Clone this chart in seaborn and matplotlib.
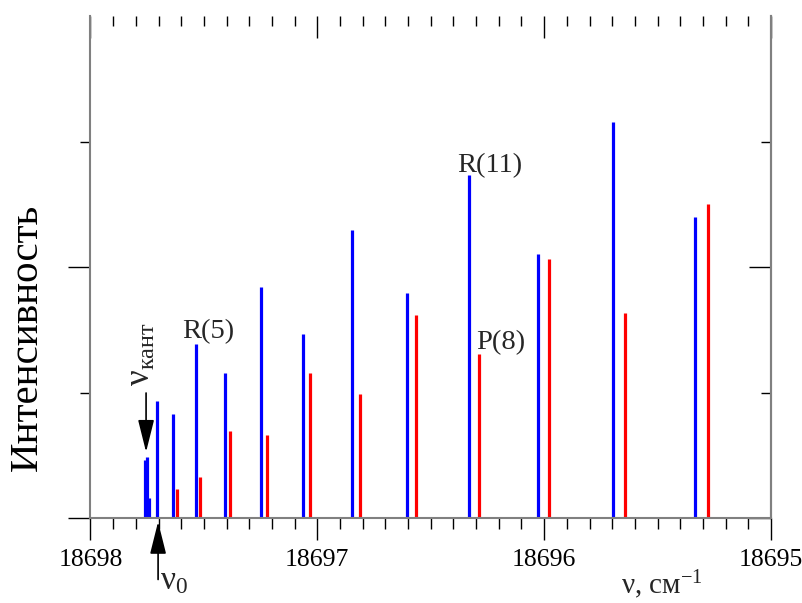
import matplotlib
matplotlib.use("Agg")
import matplotlib.pyplot as plt
import numpy as np
import pandas as pd
import seaborn as sns
from matplotlib.ticker import FixedLocator, MultipleLocator, NullFormatter

# ---- data ----
r_nu = [18697.760, 18697.749, 18697.740, 18697.705, 18697.635, 18697.535,
        18697.406, 18697.250, 18697.064, 18696.848, 18696.605, 18696.330,
        18696.028, 18695.696, 18695.336]
r_int = [0.46, 0.49, 0.16, 0.93, 0.83, 1.39, 1.155, 1.84, 1.47, 2.295,
         1.79, 2.73, 2.10, 3.155, 2.40]
p_nu = [18697.620, 18697.517, 18697.384, 18697.223, 18697.031, 18696.813,
        18696.565, 18696.286, 18695.978, 18695.642, 18695.279]
p_int = [0.23, 0.33, 0.69, 0.66, 1.155, 0.99, 1.615, 1.31, 2.065, 1.63, 2.50]

xtick_vals = [18698, 18697, 18696, 18695]
xtick_labels = ["18698", "18697", "18696", "18695"]

# long-form table: each stick is a segment from 0 to its intensity
rows = []
sid = 0
for branch, nus, ints in (("R", r_nu, r_int), ("P", p_nu, p_int)):
    for n, v in zip(nus, ints):
        rows.append(dict(nu=n, I=0.0, branch=branch, sid=sid, k=0))
        rows.append(dict(nu=n, I=v, branch=branch, sid=sid, k=1))
        sid += 1
df = pd.DataFrame(rows)

sns.set_theme(style="ticks")
plt.rcParams["font.family"] = ["Liberation Serif", "DejaVu Serif"]
plt.rcParams["mathtext.fontset"] = "custom"
plt.rcParams["mathtext.rm"] = "Liberation Serif"
plt.rcParams["mathtext.it"] = "Liberation Serif:italic"

W, H = 803, 603
fig = plt.figure(figsize=(W / 100, H / 100), dpi=100)
L, R_, B, T = 90.5, 771, 518, 16
ax = fig.add_axes([L / W, (H - B) / H, (R_ - L) / W, (B - T) / H])

sns.lineplot(data=df, x="nu", y="I", units="sid", estimator=None, sort=False,
             hue="branch", palette={"R": "#0000ff", "P": "#ff0000"},
             linewidth=2.3, legend=False, ax=ax)
for ln in ax.lines:
    ln.set_solid_capstyle("butt")

ax.set_xlim(18698, 18695)
ax.set_ylim(0, 4)
ax.set_xlabel("")
ax.set_ylabel("")

ax.xaxis.set_major_locator(FixedLocator(xtick_vals))
ax.set_xticklabels(xtick_labels)
ax.xaxis.set_minor_locator(MultipleLocator(0.1))
ax.yaxis.set_major_locator(FixedLocator([0, 2]))
ax.yaxis.set_minor_locator(FixedLocator([1, 3]))
ax.yaxis.set_major_formatter(NullFormatter())

ax.tick_params(axis="x", which="major", direction="out", length=16, width=1,
               color="black", labelsize=18.5, pad=6, labelcolor="black")
ax.tick_params(axis="x", which="minor", direction="out", length=8, width=1, color="black")
ax.tick_params(axis="y", which="major", direction="out", length=15.5, width=1, color="black")
ax.tick_params(axis="y", which="minor", direction="out", length=7.5, width=1, color="black")

ax.spines["top"].set_visible(False)
for s in ("left", "right", "bottom"):
    ax.spines[s].set_color("#808080")
    ax.spines[s].set_linewidth(1.5)

# top ticks (inward, no spine)
top = ax.secondary_xaxis("top")
top.xaxis.set_major_locator(FixedLocator(xtick_vals))
top.xaxis.set_minor_locator(MultipleLocator(0.1))
top.tick_params(axis="x", which="major", direction="in", length=15.5, width=1,
                color="black", labeltop=False)
top.tick_params(axis="x", which="minor", direction="in", length=7.5, width=1, color="black")
top.spines["top"].set_visible(False)

# right ticks (inward)
right = ax.secondary_yaxis("right")
right.yaxis.set_major_locator(FixedLocator([0, 2]))
right.yaxis.set_minor_locator(FixedLocator([1, 3]))
right.tick_params(axis="y", which="major", direction="in", length=15.5, width=1,
                  color="black", labelright=False)
right.tick_params(axis="y", which="minor", direction="in", length=7.5, width=1, color="black")
right.spines["right"].set_color("#808080")
right.spines["right"].set_linewidth(1.5)

# labels
fig.text(27 / W, 1 - 337 / H, "Интенсивность", rotation=90, ha="center", va="center",
         fontsize=29.5, color="black")
ax.text(18695.661, -0.60, "ν, см$^{-1}$", fontsize=21, ha="left", va="baseline",
        clip_on=False)

ax.text(18697.597, 1.434, "R(5)", fontsize=20.5, ha="left", va="baseline")
ax.text(18696.384, 2.757, "R(11)", fontsize=20.5, ha="left", va="baseline")
ax.text(18696.300, 1.347, "P(8)", fontsize=20.5, ha="left", va="baseline")

ax.text(18697.775, 1.31, r"$\mathrm{ν}_{\mathrm{кант}}$", rotation=90, fontsize=25,
        ha="center", va="center")
ax.text(18697.694, -0.57, r"$\mathrm{ν}_{0}$", fontsize=24, ha="left", va="baseline",
        clip_on=False)

arrow_kw = dict(arrowstyle="-|>,head_length=2.0,head_width=0.5", color="black",
                lw=1.2, mutation_scale=10, shrinkA=0, shrinkB=0)
ax.annotate("", xy=(18697.755, 0.526), xytext=(18697.755, 0.996),
            arrowprops=arrow_kw)
ax.annotate("", xy=(18697.702, -0.03), xytext=(18697.702, -0.49),
            arrowprops=arrow_kw, annotation_clip=False)

fig.savefig("out.png", dpi=100, facecolor="white")
